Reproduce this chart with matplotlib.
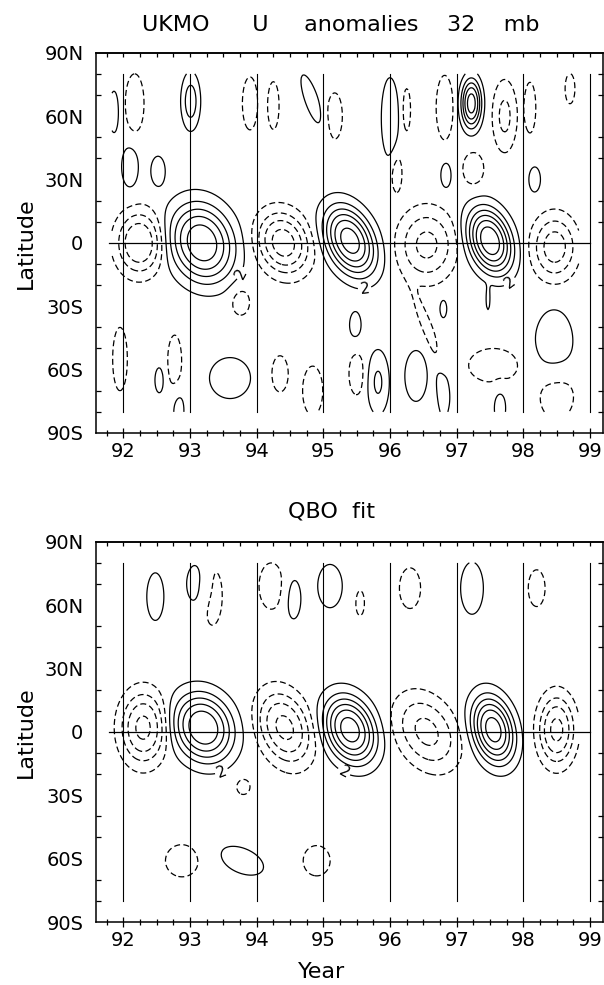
import numpy as np
import matplotlib
matplotlib.use("Agg")
import matplotlib.pyplot as plt
from matplotlib.ticker import MultipleLocator, FixedLocator

plt.rcParams['font.family'] = ['DejaVu Sans']
plt.rcParams['lines.scale_dashes'] = False
plt.rcParams['contour.negative_linestyle'] = (0, (4.3, 2.4))

# ---------------- data ----------------
year_ticks = [92, 93, 94, 95, 96, 97, 98, 99]
year_labels = ['92', '93', '94', '95', '96', '97', '98', '99']
lat_ticks = [90, 60, 30, 0, -30, -60, -90]
lat_labels = ['90N', '60N', '30N', '0', '30S', '60S', '90S']
levels = [-26, -22, -18, -14, -10, -6, -2, 6, 10, 14, 18, 22, 26]
label_level = [2]

# anomaly centres (year, latitude, amplitude m/s, spread)
ukmo_year = [93.18, 95.40, 97.50, 92.24, 94.40, 96.55, 98.47, 97.47, 96.58,
             91.86, 92.17, 93.01, 93.90, 94.25, 94.82, 95.17, 96.00, 96.25, 96.82,
             97.22, 97.72, 97.25, 98.10, 98.70, 92.10, 92.52, 96.84, 98.17, 96.10,
             93.76, 92.77, 92.54, 92.83, 91.95, 93.60, 94.35, 94.84, 95.48, 95.50,
             95.82, 96.39, 96.81, 96.80, 97.55, 97.65, 98.46, 98.50]
ukmo_lat = [0, 1, 1, 0, 0, -1, -2, -27, -42,
            62, 66, 67, 66, 65, 68, 60, 59, 63, 64,
            66, 60, 35, 64, 73, 36, 34, 32, 30, 33,
            -28, -56, -65, -79, -55, -64, -62, -70, -39, -62,
            -66, -63, -66, -31, -58, -78, -47, -72]
ukmo_amp = [21, 24, 25, -14, -16, -11, -12, 3.0, -3.5,
            3.5, -5, 8, -4, -3.5, 3.5, -3.5, 6, -3.3, -5,
            20, -7, -3.5, -3.3, -3.0, 3.5, 3.3, 3.3, 3.3, -3.3,
            -3.5, -3.5, 3.3, 3.3, -3.3, 4, -3.5, -6, 3.0, -3.5,
            6.5, 3.5, 3.5, 3.3, -3.3, 3.3, 4, -3.5]
ukmo_syr = [0.35, 0.265, 0.235, 0.25, 0.28, 0.30, 0.24, 0.03, 0.08,
            0.066, 0.11, 0.10, 0.10, 0.082, 0.10, 0.11, 0.095, 0.058, 0.10,
            0.11, 0.13, 0.15, 0.087, 0.08, 0.12, 0.107, 0.078, 0.087, 0.08,
            0.13, 0.10, 0.066, 0.08, 0.11, 0.27, 0.118, 0.11, 0.095, 0.11,
            0.12, 0.16, 0.10, 0.05, 0.37, 0.085, 0.25, 0.25]
ukmo_slat = [13.6, 12, 11.3, 10.8, 10.8, 12, 10.8, 5, 16,
             9.4, 11, 9.5, 11, 10.8, 11, 10.5, 14, 10, 12,
             8.5, 12, 7.5, 12, 7.8, 9.4, 7, 6, 6, 9,
             6, 11.8, 6, 8, 15, 8.5, 8.2, 8.5, 7, 9.5,
             11, 11.5, 16, 4, 8, 8, 13.5, 11]
ukmo_tilt = [-0.004, -0.008, -0.006, 0, -0.004, 0, 0, 0, -0.012,
             0, 0, 0, 0, 0, -0.01, 0, 0, 0, 0,
             0, 0, 0, 0, 0, 0, 0, 0, 0, 0,
             0, 0, 0, 0, 0, 0, 0, 0, 0, 0,
             0, 0, 0, 0, 0, 0, 0, 0]

# anomaly centres
qbo_year = [93.20, 95.40, 97.55, 92.30, 94.42, 96.55, 98.50,
            92.48, 93.12, 93.33, 94.22, 94.55, 95.10, 95.55, 96.30, 97.23, 98.20,
            93.80, 92.88, 93.78, 94.90]
qbo_lat = [2, 1, 1, 2, 2, 0, 1,
           64, 70, 65, 69, 63, 69, 61, 68, 68, 68,
           -26, -61, -61, -61]
qbo_amp = [21.5, 24, 24, -15, -15, -11, -15,
           3.4, 3.4, -3.4, -3.4, 3.3, 3.4, -2.4, -3.4, 3.5, -3.3,
           -3.0, -3.0, 3.2, -3.0]
qbo_syr = [0.325, 0.274, 0.226, 0.25, 0.28, 0.32, 0.20,
           0.125, 0.168, 0.155, 0.18, 0.113, 0.18, 0.10, 0.155, 0.163, 0.126,
           0.11, 0.27, 0.30, 0.22]
qbo_slat = [11.8, 11.6, 11.6, 12.3, 12.5, 12.5, 11.8,
            11, 10, 14.5, 10.7, 9.7, 10, 9, 9.4, 11.8, 8.7,
            4, 8.3, 7, 7.8]
qbo_tilt = [-0.004, -0.006, -0.005, 0, -0.006, -0.008, 0,
            0, 0, 0, 0, 0, 0, 0, 0, 0, 0,
            0, 0, -0.02, 0]

ukmo_label_pts = [(93.62, -12), (95.61, -19), (97.78, -18)]
qbo_label_pts = [(93.45, -17), (95.30, -19.5)]

SHAPE = 2.5  # profile exponent of each anomaly centre


def build_field(yrs, lats, amps, syrs, slats, tilts, T, L):
    Z = np.zeros_like(T)
    for y0, l0, a, sy, sl, tl in zip(yrs, lats, amps, syrs, slats, tilts):
        yc = y0 + tl * (L - l0)
        rho2 = ((T - yc) / sy) ** 2 + ((L - l0) / sl) ** 2
        Z += a * np.exp(-0.5 * rho2 ** (SHAPE / 2))
    return Z


t = np.linspace(91.83, 98.83, 351)
la = np.linspace(-80, 80, 161)
T, L = np.meshgrid(t, la)
Z_ukmo = build_field(ukmo_year, ukmo_lat, ukmo_amp, ukmo_syr, ukmo_slat, ukmo_tilt, T, L)
Z_qbo = build_field(qbo_year, qbo_lat, qbo_amp, qbo_syr, qbo_slat, qbo_tilt, T, L)

# ---------------- figure ----------------
W, H = 604, 985
fig = plt.figure(figsize=(W / 100, H / 100), dpi=100)

left_px, right_px = 96, 603
panels = [(52.7, 433.0), (541.7, 922.0)]
xlim = (91.59, 99.195)

fs_tick = 14
fs_lab = 16


def setup_axes(ax):
    ax.set_xlim(*xlim)
    ax.set_ylim(-90, 90)
    for sp in ax.spines.values():
        sp.set_linewidth(1.1)
    ax.xaxis.set_major_locator(FixedLocator(year_ticks))
    ax.set_xticklabels(year_labels)
    ax.xaxis.set_minor_locator(MultipleLocator(0.25))
    ax.yaxis.set_major_locator(FixedLocator(lat_ticks))
    ax.set_yticklabels(lat_labels)
    ax.yaxis.set_minor_locator(MultipleLocator(10))
    ax.tick_params(axis='x', which='major', direction='inout', length=6.5, width=0.9,
                   top=False, labelsize=fs_tick, pad=3)
    ax.tick_params(axis='x', which='minor', direction='inout', length=4.5, width=0.9, top=False)
    ax.tick_params(axis='y', which='both', direction='in', length=3.5, width=0.9,
                   right=True, labelsize=fs_tick, pad=9)
    ax.tick_params(axis='y', which='major', length=0)
    sec = ax.secondary_xaxis('top')
    sec.xaxis.set_major_locator(MultipleLocator(0.25))
    sec.tick_params(direction='in', length=3, width=0.9, labeltop=False)
    sec.spines['top'].set_linewidth(1.1)
    for yr in year_ticks:
        ax.plot([yr, yr], [-80, 80], color='k', lw=0.8)
    ax.plot([91.78, 99.0], [0, 0], color='k', lw=0.9)


for (top_px, bot_px), Z, lbl_pts in zip(panels, [Z_ukmo, Z_qbo],
                                        [ukmo_label_pts, qbo_label_pts]):
    ax = fig.add_axes([left_px / W, 1 - bot_px / H, (right_px - left_px) / W,
                       (bot_px - top_px) / H])
    setup_axes(ax)
    ax.contour(T, L, Z, levels=levels, colors='k', linewidths=0.9)
    cs2 = ax.contour(T, L, Z, levels=label_level, colors='k', linewidths=0.9)
    ax.clabel(cs2, manual=lbl_pts, fmt='%d', fontsize=11, inline=True, inline_spacing=2)
    fig.text(26 / W, 1 - (top_px + bot_px) / 2 / H, 'Latitude', rotation=90,
             ha='center', va='center', fontsize=fs_lab)

fig.text(341 / W, 1 - 25 / H, 'UKMO      U     anomalies    32    mb', ha='center',
         va='center', fontsize=fs_lab)
fig.text(332 / W, 1 - 512 / H, 'QBO  fit', ha='center', va='center', fontsize=fs_lab)
fig.text(322 / W, 1 - 972 / H, 'Year', ha='center', va='center', fontsize=fs_lab)

fig.savefig('out.png', dpi=100)
